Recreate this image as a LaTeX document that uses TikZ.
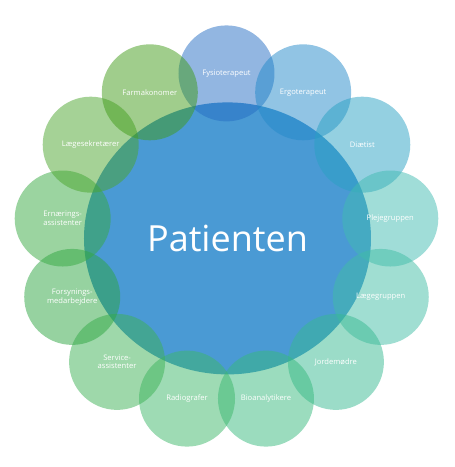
\documentclass[tikz,border=0pt]{standalone}
\usepackage{fontspec}
\setmainfont{Open Sans}

\definecolor{patientblue}{RGB}{74,154,212}
\definecolor{fysiocol}{RGB}{37,109,195}
\definecolor{ergocol}{RGB}{35,137,201}
\definecolor{diaetcol}{RGB}{41,161,195}
\definecolor{plejecol}{RGB}{65,187,177}
\definecolor{laegecol}{RGB}{65,189,165}
\definecolor{jordecol}{RGB}{55,185,145}
\definecolor{bioancol}{RGB}{55,185,125}
\definecolor{radiocol}{RGB}{61,183,105}
\definecolor{servicecol}{RGB}{61,177,85}
\definecolor{forsyncol}{RGB}{45,165,65}
\definecolor{ernaercol}{RGB}{55,169,65}
\definecolor{sekretcol}{RGB}{75,165,45}
\definecolor{farmacol}{RGB}{65,155,25}

\tikzset{
    petal/.style={circle, minimum size=96pt, inner sep=0pt, fill opacity=0.5, text opacity=1,
        text=white, align=center, font=\fontsize{7.6}{8.6}\selectfont},
    centre/.style={ellipse, minimum width=287pt, minimum height=272pt, inner sep=0pt,
        fill=patientblue, text=white, font=\fontsize{36}{40}\selectfont}
}

\usetikzlibrary{shapes.geometric}

\begin{document}
\begin{tikzpicture}
        \useasboundingbox (-226.5pt,-228.6pt) rectangle (228.5pt,238.4pt);
        \node[centre] (patient) at (1pt, 0pt) {Patienten};
        \node[petal, fill=fysiocol] (fysio) at ({90-0*360/13}:165pt) {Fysioterapeut};
        \node[petal, fill=ergocol] (ergo) at ({90-1*360/13}:165pt) {Ergoterapeut};
        \node[petal, fill=diaetcol] (diaet) at ({90-2*360/13}:165pt) {Diætist};
        \node[petal, fill=plejecol] (pleje) at ({90-3*360/13}:165pt) {Plejegruppen};
        \node[petal, fill=laegecol] (laege) at ({90-4*360/13}:165pt) {Lægegruppen};
        \node[petal, fill=jordecol] (jorde) at ({90-5*360/13}:165pt) {Jordemødre};
        \node[petal, fill=bioancol] (bioan) at ({90-6*360/13}:165pt) {Bioanalytikere};
        \node[petal, fill=radiocol] (radio) at ({90-7*360/13}:165pt) {Radiografer};
        \node[petal, fill=servicecol] (service) at ({90-8*360/13}:165pt) {Service-\\assistenter};
        \node[petal, fill=forsyncol] (forsyn) at ({90-9*360/13}:165pt) {Forsynings-\\medarbejdere};
        \node[petal, fill=ernaercol] (ernaer) at ({90-10*360/13}:165pt) {Ernærings-\\assistenter};
        \node[petal, fill=sekretcol] (sekret) at ({90-11*360/13}:165pt) {Lægesekretærer};
        \node[petal, fill=farmacol] (farma) at ({90-12*360/13}:165pt) {Farmakonomer};
    \end{tikzpicture}
\end{document}
